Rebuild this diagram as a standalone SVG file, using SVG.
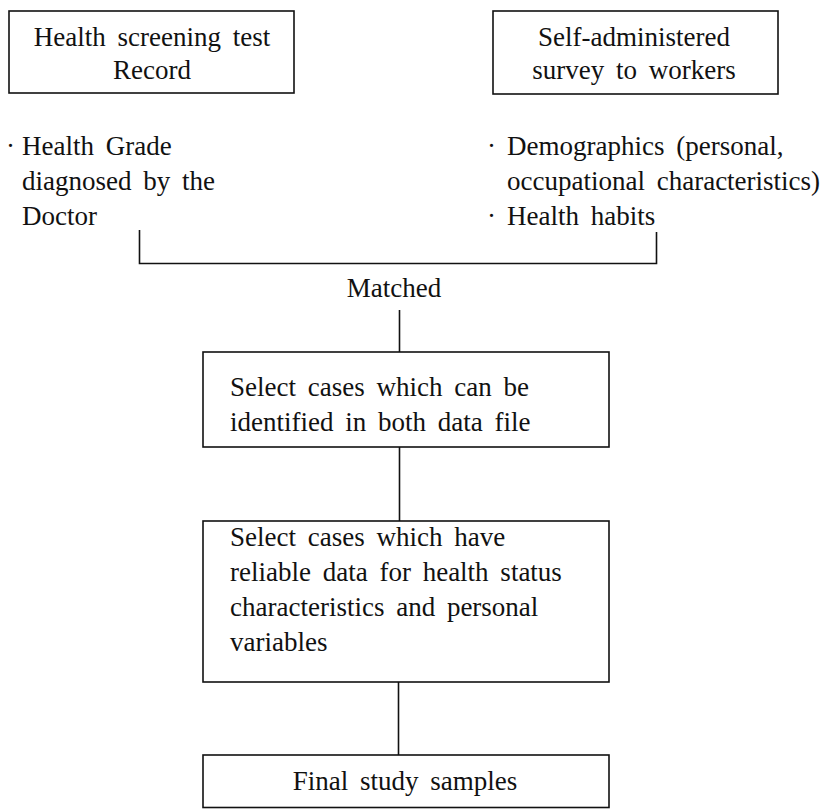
<svg xmlns="http://www.w3.org/2000/svg" width="828" height="809" viewBox="0 0 828 809" font-family="'Liberation Serif', 'Times New Roman', serif">
<style>
  .box { fill: #ffffff; stroke: #111111; stroke-width: 1.6; }
  .ln { fill: none; stroke: #111111; stroke-width: 1.6; }
  text { font-family: "Liberation Serif", "Times New Roman", serif; font-size: 27px; fill: #111111; word-spacing: 5px; }
  .c { text-anchor: middle; }
</style>
<rect width="828" height="809" fill="#ffffff"/>
<g id="connectors">
  <polyline class="ln" points="139.5,230 139.5,263.5 656.5,263.5 656.5,232"/>
  <line class="ln" x1="399.5" y1="310" x2="399.5" y2="352"/>
  <line class="ln" x1="399.5" y1="447" x2="399.5" y2="521"/>
  <line class="ln" x1="398.5" y1="682" x2="398.5" y2="755"/>
</g>
<g id="health-screening">
  <rect class="box" x="9" y="11" width="285" height="82"/>
  <text class="c" x="152" y="46">Health screening test</text>
  <text class="c" x="152" y="79">Record</text>
</g>
<g id="health-screening-items">
  <text y="155"><tspan x="6">·</tspan><tspan x="22">Health Grade</tspan></text>
  <text x="22" y="190">diagnosed by the</text>
  <text x="22" y="225">Doctor</text>
</g>
<g id="self-survey">
  <rect class="box" x="493" y="11" width="285" height="83"/>
  <text class="c" x="634" y="46">Self-administered</text>
  <text class="c" x="634" y="79">survey to workers</text>
</g>
<g id="self-survey-items">
  <text y="155"><tspan x="487">·</tspan><tspan x="507">Demographics (personal,</tspan></text>
  <text x="507" y="190">occupational characteristics)</text>
  <text y="225"><tspan x="487">·</tspan><tspan x="507">Health habits</tspan></text>
</g>
<g id="matched">
  <text class="c" x="394" y="297">Matched</text>
</g>
<g id="select-identified">
  <rect class="box" x="203" y="352" width="406" height="95"/>
  <text x="230" y="396">Select cases which can be</text>
  <text x="230" y="431">identified in both data file</text>
</g>
<g id="select-reliable">
  <rect class="box" x="203" y="521" width="406" height="161"/>
  <text x="230" y="546">Select cases which have</text>
  <text x="230" y="581">reliable data for health status</text>
  <text x="230" y="616">characteristics and personal</text>
  <text x="230" y="651">variables</text>
</g>
<g id="final-samples">
  <rect class="box" x="203" y="755" width="406" height="52.5"/>
  <text class="c" x="405" y="790">Final study samples</text>
</g>
</svg>
